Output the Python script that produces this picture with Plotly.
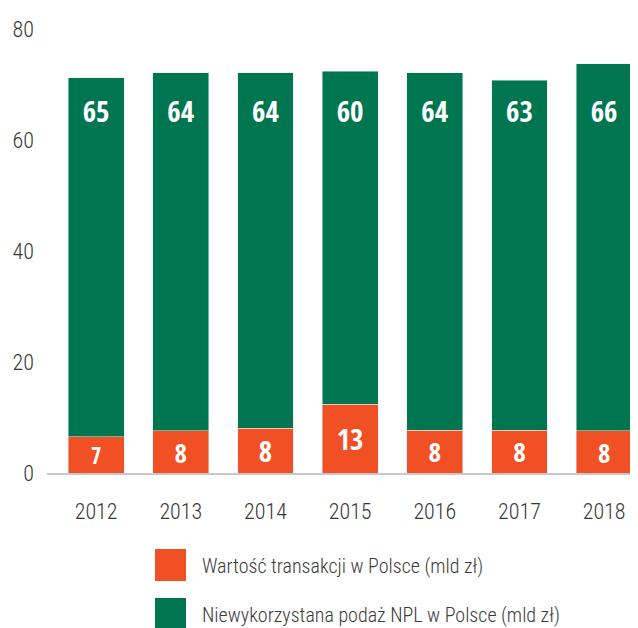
import plotly.graph_objects as go

years = ["2012", "2013", "2014", "2015", "2016", "2017", "2018"]
transakcje = [6.5, 7.6, 8.1, 12.4, 7.7, 7.7, 7.6]
transakcje_lbl = ["7", "8", "8", "13", "8", "8", "8"]
podaz = [64.7, 64.5, 64.0, 60.0, 64.4, 63.1, 66.1]
podaz_lbl = ["65", "64", "64", "60", "64", "63", "66"]
names = ["Wartość transakcji w Polsce (mld zł)", "Niewykorzystana podaż NPL w Polsce (mld zł)"]

ORANGE = "#F15024"
GREEN = "#007650"
FONT = "Roboto Condensed, sans-serif"
BOLD = "Open Sans Condensed, Roboto Condensed, sans-serif"

# the page body has an 8px margin, so the figure is drawn 8px smaller
OFF = 8
W, H = 638 - OFF, 628 - OFF
L, R, T, B = 47 - OFF, 0, 29 - OFF, 155
pw, ph = W - L - R, H - T - B


def px_x(x):
    return (x - OFF - L) / pw


def px_y(y):
    return (H - B - (y - OFF)) / ph


fig = go.Figure()
fig.add_trace(go.Bar(x=years, y=transakcje, name=names[0], marker_color=ORANGE,
                     text=transakcje_lbl, textposition="inside", insidetextanchor="middle",
                     textangle=0,
                     textfont=dict(color="white", size=29, family=BOLD, weight="bold"),
                     showlegend=False))
fig.add_trace(go.Bar(x=years, y=podaz, name=names[1], marker_color=GREEN,
                     showlegend=False))
# green labels sit near the top of each bar
fig.add_trace(go.Scatter(x=years, y=[64.5] * len(years), mode="text", text=podaz_lbl,
                         textfont=dict(color="white", size=29, family=BOLD, weight="bold"),
                         showlegend=False, hoverinfo="skip"))

# legend drawn by hand (big squares)
for i, (nm, col) in enumerate(zip(names, [ORANGE, GREEN])):
    y0 = 549 + i * 49
    fig.add_shape(type="rect", xref="paper", yref="paper",
                  x0=px_x(155), x1=px_x(186), y0=px_y(y0), y1=px_y(y0 + 32),
                  fillcolor=col, line_width=0)
    fig.add_annotation(xref="paper", yref="paper", x=px_x(200), y=px_y(y0 + 17),
                       text=nm, showarrow=False, xanchor="left", yanchor="middle",
                       font=dict(size=20, color="#3a3a3a", family=FONT, weight=300))

fig.update_layout(
    barmode="stack", bargap=0.34,
    width=W, height=H,
    margin=dict(l=L, r=R, t=T, b=B),
    plot_bgcolor="white", paper_bgcolor="white",
    font=dict(family=FONT, size=22, color="#363636", weight=300),
)
fig.update_xaxes(type="category", range=[-0.58, 6.4], showgrid=False, showline=True,
                 linecolor="#c8c8cc", linewidth=2, ticks="", ticklabelstandoff=18,
                 automargin=False)
fig.update_yaxes(range=[0, 80], tickvals=[0, 20, 40, 60, 80], showgrid=False,
                 zeroline=False, ticks="", ticklabelstandoff=12, automargin=False)

fig.write_html("out.html")
